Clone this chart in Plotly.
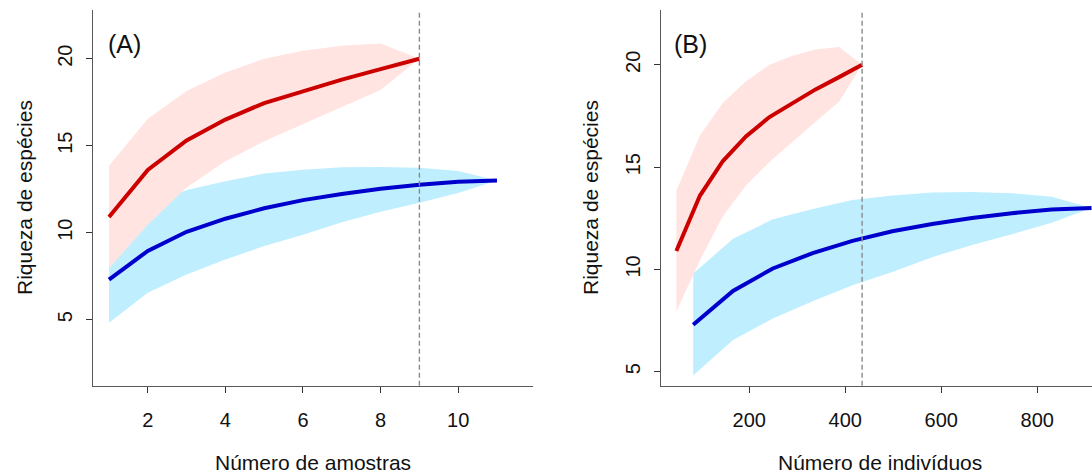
import plotly.graph_objects as go

# ---- data ----
samples_red = [1, 2, 3, 4, 5, 6, 7, 8, 9]
samples_blue = [1, 2, 3, 4, 5, 6, 7, 8, 9, 10, 11]
indiv_red = [48, 97, 145, 193, 242, 290, 338, 387, 435]
indiv_blue = [83, 166, 249, 332, 415, 498, 581, 664, 747, 830, 913]

rich_red = [10.9, 13.6, 15.3, 16.5, 17.45, 18.15, 18.8, 19.4, 20.0]
red_upper = [13.85, 16.55, 18.15, 19.2, 20.0, 20.45, 20.75, 20.87, 20.0]
red_lower = [7.95, 10.45, 12.6, 14.1, 15.25, 16.25, 17.22, 18.2, 20.0]

rich_blue = [7.3, 8.95, 10.05, 10.8, 11.4, 11.87, 12.22, 12.52, 12.75, 12.93, 13.0]
blue_upper = [9.8, 11.5, 12.45, 12.95, 13.4, 13.62, 13.76, 13.78, 13.73, 13.55, 13.0]
blue_lower = [4.82, 6.55, 7.6, 8.45, 9.23, 9.88, 10.6, 11.2, 11.72, 12.28, 13.0]

ref_samples = 9
ref_indiv = 435

y_ticks = [5, 10, 15, 20]
x_ticks_a = [2, 4, 6, 8, 10]
x_ticks_b = [200, 400, 600, 800]

panel_labels = ["(A)", "(B)"]
x_titles = ["Número de amostras", "Número de indivíduos"]
y_title = "Riqueza de espécies"

# ---- styles ----
W, H = 1092, 475
PINK = "#FFE4E1"
LBLUE = "#BFEFFF"
RED = "#CD0000"
BLUE = "#0000CD"
FONT = "Liberation Sans, Arial, sans-serif"

fig = go.Figure()


def band(x, lo, hi, color, xa, ya):
    fig.add_trace(go.Scatter(
        x=list(x) + list(x)[::-1], y=list(hi) + list(lo)[::-1],
        fill="toself", fillcolor=color, mode="lines", line=dict(width=0),
        hoverinfo="skip", showlegend=False, xaxis=xa, yaxis=ya))


def curve(x, y, color, xa, ya):
    fig.add_trace(go.Scatter(
        x=x, y=y, mode="lines", line=dict(color=color, width=4),
        showlegend=False, xaxis=xa, yaxis=ya))


for xs_r, xs_b, xa, ya in [(samples_red, samples_blue, "x", "y"),
                           (indiv_red, indiv_blue, "x2", "y2")]:
    band(xs_b, blue_lower, blue_upper, LBLUE, xa, ya)
    band(xs_r, red_lower, red_upper, PINK, xa, ya)
    curve(xs_b, rich_blue, BLUE, xa, ya)
    curve(xs_r, rich_red, RED, xa, ya)

# dashed reference lines
for xv, xr, yr in [(ref_samples, "x", "y domain"), (ref_indiv, "x2", "y2 domain")]:
    fig.add_shape(type="line", x0=xv, x1=xv, y0=0, y1=1, xref=xr, yref=yr,
                  line=dict(color="#8a8a8a", width=1.4, dash="5px,3px"))

ydom = [(H - 385.7) / H, (H - 10) / H]
axis_common = dict(showgrid=False, zeroline=False, showline=True,
                   linecolor="#595959", linewidth=1.3, ticks="outside",
                   ticklen=6, tickwidth=1.2, tickcolor="#333333",
                   tickfont=dict(family=FONT, size=20, color="#111111"))

fig.update_layout(
    width=W, height=H, autosize=False,
    margin=dict(l=0, r=0, t=0, b=0),
    paper_bgcolor="white", plot_bgcolor="white",
    xaxis=dict(domain=[93 / W, 532.7 / W], range=[0.588, 11.92],
               tickvals=x_ticks_a, anchor="y", ticklabelstandoff=10,
               **axis_common),
    yaxis=dict(domain=ydom, range=[1.2, 22.8], tickvals=y_ticks,
               anchor="x", tickangle=-90, ticklabelstandoff=6,
               **axis_common),
    xaxis2=dict(domain=[661 / W, 1.0], range=[16.0, 914.0],
                tickvals=x_ticks_b, anchor="y2", ticklabelstandoff=10,
                **axis_common),
    yaxis2=dict(domain=ydom, range=[4.32, 22.68], tickvals=y_ticks,
                anchor="x2", tickangle=-90, ticklabelstandoff=6,
                **axis_common),
)

ann = []
for lbl, px in zip(panel_labels, [124, 690.5]):
    ann.append(dict(text=lbl, x=px / W, y=1 - 44 / H, xref="paper", yref="paper",
                    xanchor="center", yanchor="middle", showarrow=False,
                    font=dict(family=FONT, size=25, color="#111111")))
for t, px in zip(x_titles, [312.8, 880]):
    ann.append(dict(text=t, x=px / W, y=1 - 462 / H, xref="paper", yref="paper",
                    xanchor="center", yanchor="middle", showarrow=False,
                    font=dict(family=FONT, size=21, color="#111111")))
for px in [24, 590]:
    ann.append(dict(text=y_title, x=px / W, y=1 - 198 / H, xref="paper", yref="paper",
                    xanchor="center", yanchor="middle", showarrow=False, textangle=-90,
                    font=dict(family=FONT, size=21, color="#111111")))
fig.update_layout(annotations=ann)

fig.write_html(
    "out.html",
    config={"displayModeBar": False},
    post_script="document.body.style.margin='0';document.body.style.overflow='hidden';",
)
